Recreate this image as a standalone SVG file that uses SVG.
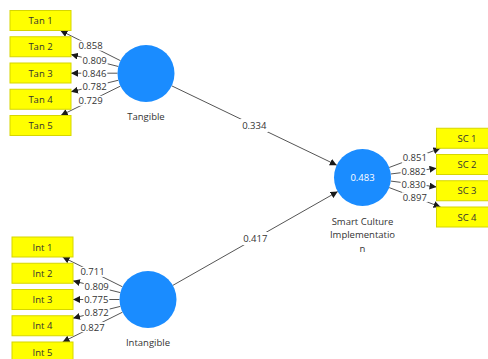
<svg xmlns="http://www.w3.org/2000/svg" width="488" height="359" viewBox="0 0 488 359">
<defs>
<marker id="arr" markerUnits="userSpaceOnUse" markerWidth="8" markerHeight="7" refX="7" refY="3.5" orient="auto">
<path d="M0,0 L7,3.5 L0,7 Z" fill="#1a1a1a"/>
</marker>
<style>
.box{fill:#ffff00;stroke:#d6d600;stroke-width:1}
.lv{fill:#1a8cff}
.t{font-family:"Open Sans","Noto Sans","Liberation Sans",sans-serif;font-size:9.5px;fill:#333;text-anchor:middle;dominant-baseline:central}
.w{fill:#ffffff}
.ln{stroke:#555;stroke-width:1;fill:none;marker-end:url(#arr)}
.bg{fill:#ffffff}
</style>
</defs>
<rect width="488" height="359" fill="#ffffff"/>
<g id="connectors">
<line class="ln" x1="171.69" y1="85.84" x2="336.81" y2="165.16"/>
<line class="ln" x1="172.77" y1="285.41" x2="337.73" y2="191.59"/>
<line class="ln" x1="120.53" y1="60.71" x2="60.41" y2="30.5"/>
<line class="ln" x1="118.37" y1="66.5" x2="71" y2="54.48"/>
<line class="ln" x1="117.5" y1="73.2" x2="71" y2="73.2"/>
<line class="ln" x1="118.31" y1="80.26" x2="71" y2="91.81"/>
<line class="ln" x1="120.44" y1="86.1" x2="60.79" y2="115.5"/>
<line class="ln" x1="122.48" y1="286.8" x2="62.6" y2="257"/>
<line class="ln" x1="120.35" y1="292.62" x2="73" y2="280.84"/>
<line class="ln" x1="119.5" y1="299.5" x2="73" y2="299.5"/>
<line class="ln" x1="120.35" y1="306.38" x2="73" y2="318.16"/>
<line class="ln" x1="122.48" y1="312.2" x2="62.6" y2="342"/>
<line class="ln" x1="389.18" y1="167.48" x2="440.37" y2="148.25"/>
<line class="ln" x1="390.78" y1="173.98" x2="436.5" y2="168.3"/>
<line class="ln" x1="390.77" y1="181.08" x2="436.5" y2="186.88"/>
<line class="ln" x1="389.16" y1="187.58" x2="440.54" y2="207"/>
<g id="path-labels">
<rect class="bg" x="240.25" y="119" width="28" height="13"/>
<text class="t" x="254.25" y="125.5">0.334</text>
<rect class="bg" x="241.25" y="232" width="28" height="13"/>
<text class="t" x="255.25" y="238.5">0.417</text>
<rect class="bg" x="77.5" y="40.6" width="26" height="10"/>
<text class="t" x="90.5" y="45.6">0.858</text>
<rect class="bg" x="81.7" y="55.5" width="26" height="10"/>
<text class="t" x="94.7" y="60.5">0.809</text>
<rect class="bg" x="81.3" y="68.2" width="26" height="10"/>
<text class="t" x="94.3" y="73.2">0.846</text>
<rect class="bg" x="81.7" y="81" width="26" height="10"/>
<text class="t" x="94.7" y="86">0.782</text>
<rect class="bg" x="77.6" y="95.8" width="26" height="10"/>
<text class="t" x="90.6" y="100.8">0.729</text>
<rect class="bg" x="79.5" y="266.9" width="26" height="10"/>
<text class="t" x="92.5" y="271.9">0.711</text>
<rect class="bg" x="83.7" y="281.7" width="26" height="10"/>
<text class="t" x="96.7" y="286.7">0.809</text>
<rect class="bg" x="83.3" y="294.5" width="26" height="10"/>
<text class="t" x="96.3" y="299.5">0.775</text>
<rect class="bg" x="83.7" y="307.3" width="26" height="10"/>
<text class="t" x="96.7" y="312.3">0.872</text>
<rect class="bg" x="79.5" y="322.1" width="26" height="10"/>
<text class="t" x="92.5" y="327.1">0.827</text>
<rect class="bg" x="401.8" y="152.9" width="26" height="10"/>
<text class="t" x="414.8" y="157.9">0.851</text>
<rect class="bg" x="400.6" y="166.1" width="26" height="10"/>
<text class="t" x="413.6" y="171.1">0.882</text>
<rect class="bg" x="400.6" y="179" width="26" height="10"/>
<text class="t" x="413.6" y="184">0.830</text>
<rect class="bg" x="401.8" y="192.3" width="26" height="10"/>
<text class="t" x="414.8" y="197.3">0.897</text>
</g>
</g>
<g id="Tangible">
<circle class="lv" cx="146" cy="73.5" r="28.5"/>
<text class="t" x="146" y="116">Tangible</text>
</g>
<g id="Intangible">
<circle class="lv" cx="148" cy="299.5" r="28.5"/>
<text class="t" x="148" y="342">Intangible</text>
</g>
<g id="SmartCulture">
<circle class="lv" cx="362.5" cy="177.5" r="28.5"/>
<text class="t w" x="362.5" y="177">0.483</text>
<text class="t" x="362.5" y="221">Smart Culture</text>
<text class="t" x="362.5" y="234.5">Implementatio</text>
<text class="t" x="362.5" y="248">n</text>
</g>
<g id="Tan1"><rect class="box" x="10" y="10.5" width="61" height="20"/><text class="t" x="40.5" y="20.5">Tan 1</text></g>
<g id="Tan2"><rect class="box" x="10" y="36.75" width="61" height="20"/><text class="t" x="40.5" y="46.75">Tan 2</text></g>
<g id="Tan3"><rect class="box" x="10" y="63" width="61" height="20"/><text class="t" x="40.5" y="73">Tan 3</text></g>
<g id="Tan4"><rect class="box" x="10" y="89.25" width="61" height="20"/><text class="t" x="40.5" y="99.25">Tan 4</text></g>
<g id="Tan5"><rect class="box" x="10" y="115.5" width="61" height="20"/><text class="t" x="40.5" y="125.5">Tan 5</text></g>
<g id="Int1"><rect class="box" x="12" y="237" width="61" height="20"/><text class="t" x="42.5" y="247">Int 1</text></g>
<g id="Int2"><rect class="box" x="12" y="263.25" width="61" height="20"/><text class="t" x="42.5" y="273.25">Int 2</text></g>
<g id="Int3"><rect class="box" x="12" y="289.5" width="61" height="20"/><text class="t" x="42.5" y="299.5">Int 3</text></g>
<g id="Int4"><rect class="box" x="12" y="315.75" width="61" height="20"/><text class="t" x="42.5" y="325.75">Int 4</text></g>
<g id="Int5"><rect class="box" x="12" y="342" width="61" height="20"/><text class="t" x="42.5" y="352">Int 5</text></g>
<g id="SC1"><rect class="box" x="436.5" y="128.25" width="61" height="20"/><text class="t" x="467" y="138.25">SC 1</text></g>
<g id="SC2"><rect class="box" x="436.5" y="154.5" width="61" height="20"/><text class="t" x="467" y="164.5">SC 2</text></g>
<g id="SC3"><rect class="box" x="436.5" y="180.75" width="61" height="20"/><text class="t" x="467" y="190.75">SC 3</text></g>
<g id="SC4"><rect class="box" x="436.5" y="207" width="61" height="20"/><text class="t" x="467" y="217">SC 4</text></g>
</svg>
